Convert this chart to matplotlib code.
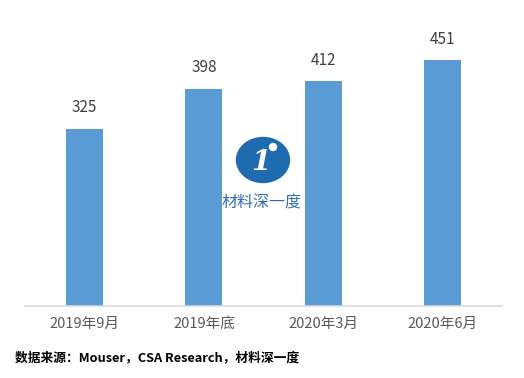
import matplotlib.pyplot as plt
from matplotlib.patches import Ellipse

plt.rcParams['font.family'] = ['Noto Sans CJK SC', 'DejaVu Sans']

categories = ['2019年9月', '2019年底', '2020年3月', '2020年6月']
values = [325, 398, 412, 451]

fig = plt.figure(figsize=(5.24, 3.78), dpi=100)
ax = fig.add_axes([25 / 524, 72 / 378, 477 / 524, 273 / 378])

x = range(len(categories))
ax.bar(x, values, width=0.31, color='#5b9bd5', zorder=2)
for xi, v in zip(x, values):
    ax.text(xi, v + 38, str(v), ha='center', va='center', fontsize=11, color='#404040')

ax.set_xlim(-0.5, 3.5)
ax.set_ylim(0, 500)
ax.set_xticks(list(x))
ax.set_xticklabels(categories, fontsize=10.5, color='#595959')
ax.set_yticks([])
ax.tick_params(axis='x', length=0, pad=8)
for s in ['top', 'right', 'left']:
    ax.spines[s].set_visible(False)
ax.spines['bottom'].set_color('#d9d9d9')
ax.spines['bottom'].set_linewidth(1.2)

# watermark
fig.patches.append(Ellipse((263 / 524, 1 - 160 / 378), 53 / 524, 45 / 378,
                           transform=fig.transFigure, color='#1f6bb0', zorder=5))
fig.text(261 / 524, 1 - 162 / 378, '1', fontsize=20, fontweight='bold', style='italic',
         color='white', ha='center', va='center', zorder=6, family='DejaVu Serif')
fig.patches.append(Ellipse((273 / 524, 1 - 147 / 378), 7 / 524, 7 / 378,
                           transform=fig.transFigure, color='white', zorder=7))
fig.text(262 / 524, 1 - 203 / 378, '材料深一度', fontsize=11.5, color='#2f6db5',
         ha='center', va='center', zorder=6)

fig.text(15 / 524, 1 - 358 / 378, '数据来源：Mouser，CSA Research，材料深一度',
         fontsize=9.2, fontweight='bold', color='black', ha='left', va='center')

fig.savefig('out.png', dpi=100, facecolor='white')
